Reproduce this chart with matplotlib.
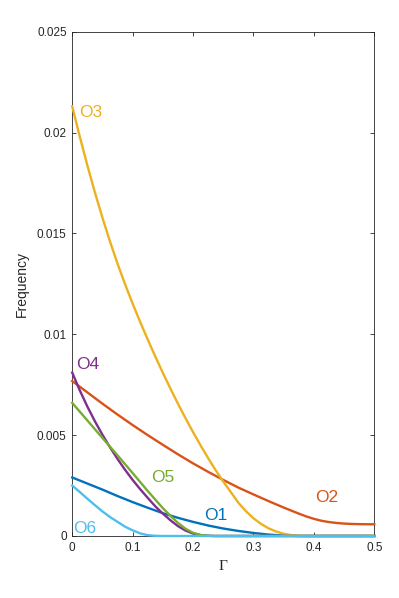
import matplotlib.pyplot as plt
import numpy as np
from matplotlib.ticker import FuncFormatter

g1 = [0.0, 0.025, 0.05, 0.075, 0.1, 0.125, 0.15, 0.175, 0.2, 0.225, 0.25,
      0.275, 0.3, 0.325, 0.35, 0.375, 0.5]
o1 = [0.0029, 0.0026, 0.0023, 0.00198, 0.00168, 0.0014, 0.00113, 0.0009, 0.0007, 0.00052,
      0.00037, 0.00025, 0.00015, 0.00007, 0.00002, 0.0, 0.0]

g2 = [0.0, 0.025, 0.05, 0.075, 0.1, 0.125, 0.15, 0.175, 0.2, 0.225, 0.25, 0.275, 0.3,
      0.325, 0.35, 0.375, 0.3875, 0.4, 0.4125, 0.425, 0.4375, 0.45, 0.4625, 0.475,
      0.4875, 0.5]
o2 = [0.00768, 0.00712, 0.00656, 0.00602, 0.0055, 0.005, 0.00452, 0.00405, 0.0036, 0.00318,
      0.00278, 0.0024, 0.00206, 0.00173, 0.00141, 0.00111, 0.00097, 0.00085, 0.000755,
      0.00069, 0.000645, 0.000615, 0.000597, 0.000587, 0.000582, 0.00058]

g3 = [0.0, 0.0125, 0.025, 0.0375, 0.05, 0.0625, 0.075, 0.0875, 0.1, 0.1125, 0.125, 0.1375,
      0.15, 0.1625, 0.175, 0.1875, 0.2, 0.2125, 0.225, 0.2375, 0.25, 0.2625, 0.275, 0.2875,
      0.3, 0.3125, 0.325, 0.3375, 0.35, 0.3625, 0.375, 0.3875, 0.5]
o3 = [0.0213, 0.0198, 0.01838, 0.01704, 0.01578, 0.0146, 0.0135, 0.01248, 0.01152, 0.01061,
      0.00974, 0.0089, 0.00809, 0.00731, 0.00656, 0.00584, 0.00515, 0.00449, 0.00386, 0.00326,
      0.0027, 0.00218, 0.00165, 0.00123, 0.00088, 0.0006, 0.00038, 0.00022, 0.00011, 0.00004,
      0.00001, 0.0, 0.0]

g4 = [0.0, 0.0125, 0.025, 0.0375, 0.05, 0.0625, 0.075, 0.0875, 0.1, 0.1125, 0.125, 0.1375,
      0.15, 0.1625, 0.175, 0.1875, 0.2, 0.2125, 0.225, 0.2375, 0.5]
o4 = [0.0081, 0.00722, 0.00642, 0.00569, 0.00502, 0.0044, 0.00382, 0.00328, 0.00278, 0.00232,
      0.00189, 0.00147, 0.00111, 0.00078, 0.00049, 0.00027, 0.00012, 0.00004, 0.00001, 0.0, 0.0]

g5 = [0.0, 0.025, 0.05, 0.075, 0.1, 0.125, 0.15, 0.1625, 0.175, 0.1875, 0.2, 0.2125,
      0.225, 0.2375, 0.5]
o5 = [0.0066, 0.00573, 0.00486, 0.004, 0.00312, 0.00223, 0.00138, 0.001, 0.00065, 0.00036,
      0.00016, 0.00005, 0.00001, 0.0, 0.0]

g6 = [0.0, 0.0125, 0.025, 0.0375, 0.05, 0.0625, 0.075, 0.0875, 0.1, 0.1125, 0.125, 0.1375,
      0.15, 0.5]
o6 = [0.0025, 0.00218, 0.00185, 0.00153, 0.00122, 0.00094, 0.0007, 0.00046, 0.00028, 0.00013,
      0.00004, 0.00001, 0.0, 0.0]

names = ['O1', 'O2', 'O3', 'O4', 'O5', 'O6']
grids = [g1, g2, g3, g4, g5, g6]
series = [o1, o2, o3, o4, o5, o6]
colors = ['#0072BD', '#D95319', '#EDB120', '#7E2F8E', '#77AC30', '#4DBEEE']
# label anchor (gamma, frequency)
label_x = [0.238, 0.421, 0.031, 0.025, 0.150, 0.021]
label_y = [0.0010, 0.00193, 0.02097, 0.00848, 0.00288, 0.00037]

plt.rcParams['font.family'] = ['Liberation Sans', 'DejaVu Sans']

fig = plt.figure(figsize=(3.99, 5.98), dpi=100)
ax = fig.add_axes([0.181, 0.1037, 0.757, 0.8433])

for name, xs, vals, c, lx, ly in zip(names, grids, series, colors, label_x, label_y):
    ax.plot(xs, vals, color=c, lw=1.7, clip_on=False, zorder=3,
            solid_joinstyle='round')
    ax.text(lx, ly, name, color=c, fontsize=12.5, ha='center', va='center')

ax.set_xlim(0, 0.5)
ax.set_ylim(0, 0.025)
ax.set_xticks(np.arange(0, 0.51, 0.1))
ax.set_yticks(np.arange(0, 0.0251, 0.005))
fmt = FuncFormatter(lambda v, p: '%g' % round(v, 4))
ax.xaxis.set_major_formatter(fmt)
ax.yaxis.set_major_formatter(fmt)

edge = '#262626'
for s in ax.spines.values():
    s.set_color(edge)
    s.set_linewidth(0.6)
ax.tick_params(direction='in', length=3, width=0.6, color=edge, labelcolor=edge,
               labelsize=8.5, top=True, right=True, pad=4)

ax.set_ylabel('Frequency', fontsize=10, color=edge, labelpad=6)
ax.set_xlabel('Γ', fontsize=11, color=edge, labelpad=5,
              fontfamily='Liberation Serif')

fig.savefig('out.png', dpi=100)
